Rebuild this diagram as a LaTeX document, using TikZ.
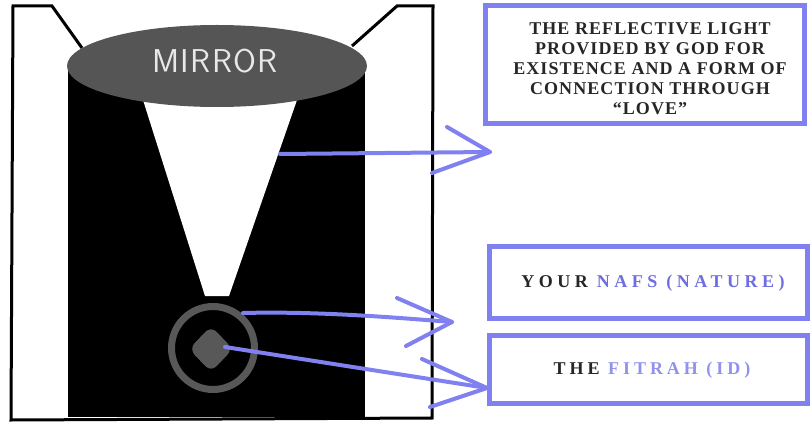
\documentclass[tikz,border=0pt]{standalone}
\usepackage{fontspec}
\setmainfont{Liberation Serif}
\newfontfamily\boxfonta[LetterSpace=6]{Liberation Serif}
\newfontfamily\boxfontb[LetterSpace=25]{Liberation Serif}
\newfontfamily\boxfontc[LetterSpace=22]{Liberation Serif}
\newfontfamily\mirrorfont[LetterSpace=4]{Latin Modern Sans}
\usetikzlibrary{shapes.geometric}
\definecolor{lav}{RGB}{128,128,240}
\definecolor{nafsblue}{RGB}{110,110,225}
\definecolor{fitrahblue}{RGB}{145,145,238}
\definecolor{mirrorgray}{RGB}{85,85,85}
\definecolor{ringgray}{RGB}{88,88,88}
\definecolor{mirrortext}{RGB}{232,232,232}
\tikzset{
  frameline/.style={line width=3pt, line join=miter},
  textbox/.style={draw=lav, line width=5pt, fill=white, inner sep=0pt},
  boxtext/.style={align=center, text=black!85},
  bluestroke/.style={draw=lav, line width=4pt, line cap=round, line join=round}
}
\begin{document}
\begin{tikzpicture}[x=1pt,y=-1pt]
\useasboundingbox (0,0) rectangle (811,422);
% outer frame
\draw[frameline] (82,48) -- (52,6) -- (13,6) -- (11,420) -- (432,418) -- (433,6) -- (397,6) -- (352,46);
% black body
\fill[black] (68,66) rectangle (365,417);
% white light cone
\fill[white] (143,100) -- (297,100) -- (229,296) -- (205,296) -- cycle;
% mirror
\node[ellipse, fill=mirrorgray, minimum width=300, minimum height=82, inner sep=0pt] (mirror) at (217,66) {};
\node[text=mirrortext, font=\mirrorfont\fontsize{33}{33}\selectfont] (mirrorlabel) at (215,61) {MIRROR};
% ring and core
\node[circle, draw=ringgray, line width=7pt, fill=black, minimum size=83, inner sep=0pt] (ring) at (213,348) {};
\fill[ringgray, rounded corners=8pt] (211,326) -- (233,349) -- (211,372) -- (189,349) -- cycle;
\coordinate (core) at (225,347);
% boxes
\node[textbox, minimum width=319, minimum height=118] (light) at (645,65) {};
\node[boxtext, font=\boxfonta\bfseries\fontsize{18}{20}\selectfont] (lighttext) at (650,69) {THE REFLECTIVE LIGHT\\PROVIDED BY GOD FOR\\EXISTENCE AND A FORM OF\\CONNECTION THROUGH\\“LOVE”};
\node[textbox, minimum width=318, minimum height=72] (nafs) at (648.5,282.5) {};
\node[boxtext, font=\boxfontb\bfseries\fontsize{18}{20}\selectfont] (nafstext) at (653,283) {YOUR \textcolor{nafsblue}{NAFS (NATURE)}};
\node[textbox, minimum width=318, minimum height=68] (fitrah) at (648.5,369) {};
\node[boxtext, font=\boxfontc\bfseries\fontsize{18}{20}\selectfont] (fitrahtext) at (652,370) {THE \textcolor{fitrahblue}{FITRAH (ID)}};
% arrows
\coordinate (a1s) at (280,154);
\coordinate (a1t) at (490,152);
\coordinate (a1u) at (447,127);
\coordinate (a1l) at (432,173);
\draw[bluestroke] (a1s) -- (a1t);
\draw[bluestroke] (a1u) -- (a1t) -- (a1l);
\coordinate (a2s) at (243,313);
\coordinate (a2t) at (452,322);
\coordinate (a2u) at (397,298);
\coordinate (a2l) at (406,346);
\draw[bluestroke] (a2s) .. controls (320,311) and (400,318) .. (a2t);
\draw[bluestroke] (a2u) -- (a2t) -- (a2l);
\coordinate (a3t) at (487,388);
\coordinate (a3u) at (422,359);
\coordinate (a3l) at (430,407);
\draw[bluestroke] (core) -- (a3t);
\draw[bluestroke] (a3u) -- (a3t) -- (a3l);
\end{tikzpicture}
\end{document}
